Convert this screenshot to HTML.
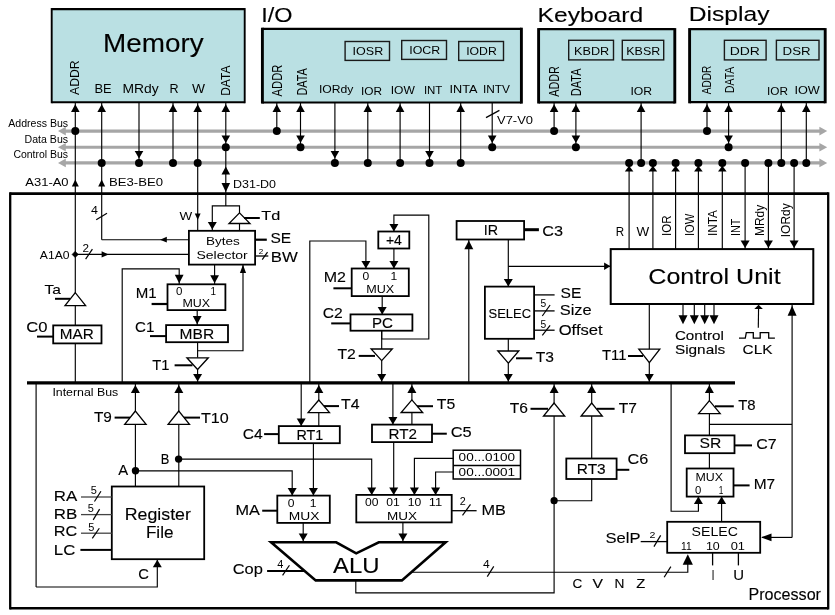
<!DOCTYPE html>
<html><head><meta charset="utf-8"><style>
html,body{margin:0;padding:0;background:#fff;width:835px;height:615px;overflow:hidden}
svg{display:block;will-change:transform}
text{font-family:"Liberation Sans",sans-serif}
.b{stroke:#000;stroke-width:0.12px}
</style></head><body>
<svg width="835" height="615" viewBox="0 0 835 615">
<rect x="51.7" y="9.1" width="193" height="93.1" fill="#bae0e3"/>
<line x1="51.7" y1="9.1" x2="244.7" y2="9.1" stroke="#000" stroke-width="2.1"/>
<line x1="51.7" y1="102.2" x2="244.7" y2="102.2" stroke="#000" stroke-width="2.1"/>
<line x1="51.7" y1="8.05" x2="51.7" y2="103.25" stroke="#000" stroke-width="1.9"/>
<line x1="244.7" y1="8.05" x2="244.7" y2="103.25" stroke="#000" stroke-width="1.9"/>
<rect x="262.4" y="28.8" width="259" height="73.7" fill="#bae0e3"/>
<line x1="262.4" y1="28.8" x2="521.4" y2="28.8" stroke="#000" stroke-width="2.2"/>
<line x1="262.4" y1="102.5" x2="521.4" y2="102.5" stroke="#000" stroke-width="2.2"/>
<line x1="262.4" y1="27.7" x2="262.4" y2="103.6" stroke="#000" stroke-width="2.9"/>
<line x1="521.4" y1="27.7" x2="521.4" y2="103.6" stroke="#000" stroke-width="2.9"/>
<rect x="538.6" y="29.2" width="136.2" height="73.2" fill="#bae0e3"/>
<line x1="538.6" y1="29.2" x2="674.8" y2="29.2" stroke="#000" stroke-width="2.2"/>
<line x1="538.6" y1="102.4" x2="674.8" y2="102.4" stroke="#000" stroke-width="2.2"/>
<line x1="538.6" y1="28.1" x2="538.6" y2="103.5" stroke="#000" stroke-width="2.9"/>
<line x1="674.8" y1="28.1" x2="674.8" y2="103.5" stroke="#000" stroke-width="2.9"/>
<rect x="689.6" y="29.2" width="135.6" height="73" fill="#bae0e3"/>
<line x1="689.6" y1="29.2" x2="825.2" y2="29.2" stroke="#000" stroke-width="2.2"/>
<line x1="689.6" y1="102.2" x2="825.2" y2="102.2" stroke="#000" stroke-width="2.2"/>
<line x1="689.6" y1="28.1" x2="689.6" y2="103.3" stroke="#000" stroke-width="2.9"/>
<line x1="825.2" y1="28.1" x2="825.2" y2="103.3" stroke="#000" stroke-width="2.9"/>
<rect x="345.1" y="41.5" width="44.4" height="18.9" fill="#bae0e3" stroke="#1a1a1a" stroke-width="1.4"/>
<text x="352.6" y="55" font-size="11" textLength="30.6" lengthAdjust="spacingAndGlyphs" fill="#000">IOSR</text>
<rect x="401.7" y="40.5" width="44.8" height="18.9" fill="#bae0e3" stroke="#1a1a1a" stroke-width="1.4"/>
<text x="409.2" y="53.9" font-size="11" textLength="31" lengthAdjust="spacingAndGlyphs" fill="#000">IOCR</text>
<rect x="458.7" y="41.5" width="44.8" height="18.9" fill="#bae0e3" stroke="#1a1a1a" stroke-width="1.4"/>
<text x="466.2" y="55" font-size="11" textLength="30.6" lengthAdjust="spacingAndGlyphs" fill="#000">IODR</text>
<rect x="568.7" y="40.3" width="44.8" height="19.6" fill="#bae0e3" stroke="#1a1a1a" stroke-width="1.4"/>
<text x="574" y="54.6" font-size="11" textLength="35.2" lengthAdjust="spacingAndGlyphs" fill="#000">KBDR</text>
<rect x="622.3" y="40.3" width="41.4" height="19.6" fill="#bae0e3" stroke="#1a1a1a" stroke-width="1.4"/>
<text x="626.3" y="54.6" font-size="11" textLength="33.9" lengthAdjust="spacingAndGlyphs" fill="#000">KBSR</text>
<rect x="724.4" y="40.3" width="41.7" height="19.6" fill="#bae0e3" stroke="#1a1a1a" stroke-width="1.4"/>
<text x="729.7" y="55.2" font-size="11" textLength="30.2" lengthAdjust="spacingAndGlyphs" fill="#000">DDR</text>
<rect x="776.4" y="40.3" width="42.6" height="19.6" fill="#bae0e3" stroke="#1a1a1a" stroke-width="1.4"/>
<text x="782.6" y="55.2" font-size="11" textLength="28" lengthAdjust="spacingAndGlyphs" fill="#000">DSR</text>
<text class="b" x="103" y="52" font-size="25.5" textLength="100.6" lengthAdjust="spacingAndGlyphs" fill="#000">Memory</text>
<text class="b" x="261.2" y="21.7" font-size="21" textLength="31.3" lengthAdjust="spacingAndGlyphs" fill="#000">I/O</text>
<text class="b" x="537.5" y="21.5" font-size="20.5" textLength="105.7" lengthAdjust="spacingAndGlyphs" fill="#000">Keyboard</text>
<text class="b" x="688.7" y="21.4" font-size="20.5" textLength="80.8" lengthAdjust="spacingAndGlyphs" fill="#000">Display</text>
<text transform="translate(78.6,94.9) scale(1.12,1) rotate(-90)" x="0" y="0" font-size="12.2" textLength="34.5" lengthAdjust="spacingAndGlyphs" fill="#000">ADDR</text>
<text x="94.5" y="93.2" font-size="12.7" textLength="17.2" lengthAdjust="spacingAndGlyphs" fill="#000">BE</text>
<text x="122.5" y="93.2" font-size="12.7" textLength="36.2" lengthAdjust="spacingAndGlyphs" fill="#000">MRdy</text>
<text x="169.5" y="93.2" font-size="12.7" textLength="9.1" lengthAdjust="spacingAndGlyphs" fill="#000">R</text>
<text x="191.9" y="93.2" font-size="12.7" textLength="13" lengthAdjust="spacingAndGlyphs" fill="#000">W</text>
<text transform="translate(230.1,95.8) scale(1.12,1) rotate(-90)" x="0" y="0" font-size="12" textLength="30.2" lengthAdjust="spacingAndGlyphs" fill="#000">DATA</text>
<line x1="64" y1="131.1" x2="820" y2="131.1" stroke="#a6a6a6" stroke-width="3.1"/>
<polygon points="58,131.1 65.8,126.8 65.8,135.4" fill="#a6a6a6"/>
<polygon points="827.2,131.1 819.4,126.8 819.4,135.4" fill="#a6a6a6"/>
<line x1="64" y1="147.3" x2="820" y2="147.3" stroke="#a6a6a6" stroke-width="3.1"/>
<polygon points="58,147.3 65.8,143 65.8,151.6" fill="#a6a6a6"/>
<polygon points="827.2,147.3 819.4,143 819.4,151.6" fill="#a6a6a6"/>
<line x1="64" y1="162.9" x2="820" y2="162.9" stroke="#a6a6a6" stroke-width="3.1"/>
<polygon points="58,162.9 65.8,158.6 65.8,167.2" fill="#a6a6a6"/>
<polygon points="827.2,162.9 819.4,158.6 819.4,167.2" fill="#a6a6a6"/>
<text x="8.3" y="126.6" font-size="10" textLength="59.8" lengthAdjust="spacingAndGlyphs" fill="#000">Address Bus</text>
<text x="24.6" y="142.7" font-size="10" textLength="43.5" lengthAdjust="spacingAndGlyphs" fill="#000">Data Bus</text>
<text x="13.4" y="158.3" font-size="10" textLength="54.7" lengthAdjust="spacingAndGlyphs" fill="#000">Control Bus</text>
<line x1="75.3" y1="102.5" x2="75.3" y2="383" stroke="#000" stroke-width="1.15"/>
<polygon points="75.3,104.2 71,111.9 79.6,111.9" fill="#000"/>
<circle cx="75.3" cy="131.1" r="4" fill="#000"/>
<polygon points="75.3,179.5 71.8,186.5 78.8,186.5" fill="#000"/>
<text x="25.3" y="186.4" font-size="10.5" textLength="43.3" lengthAdjust="spacingAndGlyphs" fill="#000">A31-A0</text>
<line x1="101.7" y1="102.5" x2="101.7" y2="239.8" stroke="#000" stroke-width="1.15"/>
<polygon points="101.7,104.2 97.4,111.9 106,111.9" fill="#000"/>
<circle cx="101.7" cy="162.9" r="4" fill="#000"/>
<polygon points="101.7,179.5 98.2,186.5 105.2,186.5" fill="#000"/>
<text x="109" y="186.4" font-size="10.5" textLength="54" lengthAdjust="spacingAndGlyphs" fill="#000">BE3-BE0</text>
<line x1="139" y1="102.5" x2="139" y2="162.9" stroke="#000" stroke-width="1.15"/>
<polygon points="139,158.6 134.7,151.1 143.3,151.1" fill="#000"/>
<circle cx="139" cy="162.9" r="4" fill="#000"/>
<line x1="173" y1="102.5" x2="173" y2="162.9" stroke="#000" stroke-width="1.15"/>
<polygon points="173,104.2 168.7,111.9 177.3,111.9" fill="#000"/>
<circle cx="173" cy="162.9" r="4" fill="#000"/>
<line x1="197.7" y1="102.5" x2="197.7" y2="230.5" stroke="#000" stroke-width="1.15"/>
<polygon points="197.7,104.2 193.4,111.9 202,111.9" fill="#000"/>
<circle cx="197.7" cy="162.9" r="4" fill="#000"/>
<line x1="225.8" y1="102.5" x2="225.8" y2="205.9" stroke="#000" stroke-width="1.15"/>
<polygon points="225.8,104.2 221.5,111.9 230.1,111.9" fill="#000"/>
<polygon points="225.8,143 221.5,135.5 230.1,135.5" fill="#000"/>
<circle cx="225.8" cy="147.3" r="4" fill="#000"/>
<polygon points="225.8,166.5 221.5,174.5 230.1,174.5" fill="#000"/>
<polygon points="225.8,192 221.5,183 230.1,183" fill="#000"/>
<text x="233" y="187.5" font-size="10.5" textLength="43" lengthAdjust="spacingAndGlyphs" fill="#000">D31-D0</text>
<line x1="276.8" y1="102.5" x2="276.8" y2="131.1" stroke="#000" stroke-width="1.15"/>
<polygon points="276.8,104.2 272.5,111.9 281.1,111.9" fill="#000"/>
<circle cx="276.8" cy="131.1" r="4" fill="#000"/>
<line x1="300.5" y1="102.5" x2="300.5" y2="147.3" stroke="#000" stroke-width="1.15"/>
<polygon points="300.5,104.2 296.2,111.9 304.8,111.9" fill="#000"/>
<polygon points="300.5,143 296.2,135.5 304.8,135.5" fill="#000"/>
<circle cx="300.5" cy="147.3" r="4" fill="#000"/>
<line x1="334.9" y1="102.5" x2="334.9" y2="162.9" stroke="#000" stroke-width="1.15"/>
<polygon points="334.9,158.6 330.6,151.1 339.2,151.1" fill="#000"/>
<circle cx="334.9" cy="162.9" r="4" fill="#000"/>
<line x1="367.8" y1="102.5" x2="367.8" y2="162.9" stroke="#000" stroke-width="1.15"/>
<polygon points="367.8,104.2 363.5,111.9 372.1,111.9" fill="#000"/>
<circle cx="367.8" cy="162.9" r="4" fill="#000"/>
<line x1="400.1" y1="102.5" x2="400.1" y2="162.9" stroke="#000" stroke-width="1.15"/>
<polygon points="400.1,104.2 395.8,111.9 404.4,111.9" fill="#000"/>
<circle cx="400.1" cy="162.9" r="4" fill="#000"/>
<line x1="429.5" y1="102.5" x2="429.5" y2="162.9" stroke="#000" stroke-width="1.15"/>
<polygon points="429.5,158.6 425.2,151.1 433.8,151.1" fill="#000"/>
<circle cx="429.5" cy="162.9" r="4" fill="#000"/>
<line x1="460.7" y1="102.5" x2="460.7" y2="162.9" stroke="#000" stroke-width="1.15"/>
<polygon points="460.7,104.2 456.4,111.9 465,111.9" fill="#000"/>
<circle cx="460.7" cy="162.9" r="4" fill="#000"/>
<line x1="492.2" y1="102.5" x2="492.2" y2="147.3" stroke="#000" stroke-width="1.15"/>
<polygon points="492.2,143 487.9,135.5 496.5,135.5" fill="#000"/>
<circle cx="492.2" cy="147.3" r="4" fill="#000"/>
<line x1="486" y1="117.6" x2="499.4" y2="110.4" stroke="#000" stroke-width="1.2"/>
<text x="497" y="123.5" font-size="10.5" textLength="36" lengthAdjust="spacingAndGlyphs" fill="#000">V7-V0</text>
<text transform="translate(281.6,96.4) scale(1.25,1) rotate(-90)" x="0" y="0" font-size="11.2" textLength="31.7" lengthAdjust="spacingAndGlyphs" fill="#000">ADDR</text>
<text transform="translate(306.8,95.5) scale(1.3,1) rotate(-90)" x="0" y="0" font-size="10.8" textLength="27.1" lengthAdjust="spacingAndGlyphs" fill="#000">DATA</text>
<text x="318.9" y="93.4" font-size="11.5" textLength="34.5" lengthAdjust="spacingAndGlyphs" fill="#000">IORdy</text>
<text x="360.9" y="95.3" font-size="11.5" textLength="21.1" lengthAdjust="spacingAndGlyphs" fill="#000">IOR</text>
<text x="390.7" y="93.8" font-size="11.5" textLength="24.1" lengthAdjust="spacingAndGlyphs" fill="#000">IOW</text>
<text x="423.9" y="93.8" font-size="11.5" textLength="18.5" lengthAdjust="spacingAndGlyphs" fill="#000">INT</text>
<text x="449.5" y="93" font-size="11.5" textLength="28" lengthAdjust="spacingAndGlyphs" fill="#000">INTA</text>
<text x="483" y="93" font-size="11.5" textLength="27" lengthAdjust="spacingAndGlyphs" fill="#000">INTV</text>
<line x1="554.1" y1="102.5" x2="554.1" y2="131.1" stroke="#000" stroke-width="1.15"/>
<polygon points="554.1,104.2 549.8,111.9 558.4,111.9" fill="#000"/>
<circle cx="554.1" cy="131.1" r="4" fill="#000"/>
<line x1="575.9" y1="102.5" x2="575.9" y2="147.3" stroke="#000" stroke-width="1.15"/>
<polygon points="575.9,104.2 571.6,111.9 580.2,111.9" fill="#000"/>
<polygon points="575.9,143 571.6,135.5 580.2,135.5" fill="#000"/>
<circle cx="575.9" cy="147.3" r="4" fill="#000"/>
<line x1="641.1" y1="102.5" x2="641.1" y2="162.9" stroke="#000" stroke-width="1.15"/>
<polygon points="641.1,104.2 636.8,111.9 645.4,111.9" fill="#000"/>
<circle cx="641.1" cy="162.9" r="4" fill="#000"/>
<text transform="translate(559.3,96.8) scale(1.3,1) rotate(-90)" x="0" y="0" font-size="10.9" textLength="30.7" lengthAdjust="spacingAndGlyphs" fill="#000">ADDR</text>
<text transform="translate(581,96.2) scale(1.3,1) rotate(-90)" x="0" y="0" font-size="11" textLength="27.8" lengthAdjust="spacingAndGlyphs" fill="#000">DATA</text>
<text x="630.4" y="94.9" font-size="11.5" textLength="21.7" lengthAdjust="spacingAndGlyphs" fill="#000">IOR</text>
<line x1="707" y1="102.5" x2="707" y2="131.1" stroke="#000" stroke-width="1.15"/>
<polygon points="707,104.2 702.7,111.9 711.3,111.9" fill="#000"/>
<circle cx="707" cy="131.1" r="4" fill="#000"/>
<line x1="728.6" y1="102.5" x2="728.6" y2="147.3" stroke="#000" stroke-width="1.15"/>
<polygon points="728.6,104.2 724.3,111.9 732.9,111.9" fill="#000"/>
<polygon points="728.6,143 724.3,135.5 732.9,135.5" fill="#000"/>
<circle cx="728.6" cy="147.3" r="4" fill="#000"/>
<line x1="781.3" y1="102.5" x2="781.3" y2="162.9" stroke="#000" stroke-width="1.15"/>
<polygon points="781.3,104.2 777,111.9 785.6,111.9" fill="#000"/>
<circle cx="781.3" cy="162.9" r="4" fill="#000"/>
<line x1="806.3" y1="102.5" x2="806.3" y2="162.9" stroke="#000" stroke-width="1.15"/>
<polygon points="806.3,104.2 802,111.9 810.6,111.9" fill="#000"/>
<circle cx="806.3" cy="162.9" r="4" fill="#000"/>
<text transform="translate(711.3,94.3) scale(1.3,1) rotate(-90)" x="0" y="0" font-size="10.2" textLength="28.6" lengthAdjust="spacingAndGlyphs" fill="#000">ADDR</text>
<text transform="translate(733.6,93) scale(1.3,1) rotate(-90)" x="0" y="0" font-size="10.5" textLength="26.2" lengthAdjust="spacingAndGlyphs" fill="#000">DATA</text>
<text x="767" y="94.6" font-size="11.5" textLength="21" lengthAdjust="spacingAndGlyphs" fill="#000">IOR</text>
<text x="794.4" y="93.8" font-size="11.5" textLength="25.4" lengthAdjust="spacingAndGlyphs" fill="#000">IOW</text>
<rect x="10.2" y="193.6" width="818" height="414.6" fill="none"/>
<line x1="10.2" y1="193.6" x2="828.2" y2="193.6" stroke="#000" stroke-width="2.6"/>
<line x1="10.2" y1="608.2" x2="828.2" y2="608.2" stroke="#000" stroke-width="2.6"/>
<line x1="10.2" y1="192.3" x2="10.2" y2="609.5" stroke="#000" stroke-width="2.3"/>
<line x1="828.2" y1="192.3" x2="828.2" y2="609.5" stroke="#000" stroke-width="2.3"/>
<line x1="629.1" y1="162.9" x2="629.1" y2="249.1" stroke="#000" stroke-width="1.15"/>
<circle cx="629.1" cy="162.9" r="4" fill="#000"/>
<polygon points="629.1,165.8 624.8,171.6 633.4,171.6" fill="#000"/>
<line x1="652.9" y1="162.9" x2="652.9" y2="249.1" stroke="#000" stroke-width="1.15"/>
<circle cx="652.9" cy="162.9" r="4" fill="#000"/>
<polygon points="652.9,165.8 648.6,171.6 657.2,171.6" fill="#000"/>
<line x1="675.6" y1="162.9" x2="675.6" y2="249.1" stroke="#000" stroke-width="1.15"/>
<circle cx="675.6" cy="162.9" r="4" fill="#000"/>
<polygon points="675.6,165.8 671.3,171.6 679.9,171.6" fill="#000"/>
<line x1="698.4" y1="162.9" x2="698.4" y2="249.1" stroke="#000" stroke-width="1.15"/>
<circle cx="698.4" cy="162.9" r="4" fill="#000"/>
<polygon points="698.4,165.8 694.1,171.6 702.7,171.6" fill="#000"/>
<line x1="722.3" y1="162.9" x2="722.3" y2="249.1" stroke="#000" stroke-width="1.15"/>
<circle cx="722.3" cy="162.9" r="4" fill="#000"/>
<polygon points="722.3,165.8 718,171.6 726.6,171.6" fill="#000"/>
<line x1="745.1" y1="162.9" x2="745.1" y2="249.1" stroke="#000" stroke-width="1.15"/>
<circle cx="745.1" cy="162.9" r="4" fill="#000"/>
<polygon points="745.1,248.1 740.6,240.6 749.6,240.6" fill="#000"/>
<line x1="768.4" y1="162.9" x2="768.4" y2="249.1" stroke="#000" stroke-width="1.15"/>
<circle cx="768.4" cy="162.9" r="4" fill="#000"/>
<polygon points="768.4,248.1 763.9,240.6 772.9,240.6" fill="#000"/>
<line x1="794.1" y1="162.9" x2="794.1" y2="249.1" stroke="#000" stroke-width="1.15"/>
<circle cx="794.1" cy="162.9" r="4" fill="#000"/>
<polygon points="794.1,248.1 789.6,240.6 798.6,240.6" fill="#000"/>
<text x="615.8" y="235.5" font-size="12" textLength="8.4" lengthAdjust="spacingAndGlyphs" fill="#000">R</text>
<text x="636.6" y="235.5" font-size="12" textLength="12.7" lengthAdjust="spacingAndGlyphs" fill="#000">W</text>
<text transform="translate(670.6,236) scale(1.15,1) rotate(-90)" x="0" y="0" font-size="11.5" textLength="20.5" lengthAdjust="spacingAndGlyphs" fill="#000">IOR</text>
<text transform="translate(693.9,236) scale(1.15,1) rotate(-90)" x="0" y="0" font-size="11.3" textLength="22.4" lengthAdjust="spacingAndGlyphs" fill="#000">IOW</text>
<text transform="translate(717.4,236) scale(1.15,1) rotate(-90)" x="0" y="0" font-size="11.7" textLength="26" lengthAdjust="spacingAndGlyphs" fill="#000">INTA</text>
<text transform="translate(740.1,236) scale(1.15,1) rotate(-90)" x="0" y="0" font-size="10.9" textLength="17.4" lengthAdjust="spacingAndGlyphs" fill="#000">INT</text>
<text transform="translate(764.1,236) scale(1.15,1) rotate(-90)" x="0" y="0" font-size="11.9" textLength="31.2" lengthAdjust="spacingAndGlyphs" fill="#000">MRdy</text>
<text transform="translate(790.4,237.2) scale(1.15,1) rotate(-90)" x="0" y="0" font-size="11.9" textLength="33.8" lengthAdjust="spacingAndGlyphs" fill="#000">IORdy</text>
<rect x="610.7" y="249.1" width="202.6" height="54.9" fill="#fff" stroke="#000" stroke-width="2"/>
<text class="b" x="648.3" y="283.7" font-size="22" textLength="132.3" lengthAdjust="spacingAndGlyphs" fill="#000">Control Unit</text>
<polygon points="197.7,219.9 194.8,213.4 200.6,213.4" fill="#000"/>
<text x="179.6" y="219.9" font-size="11.5" textLength="12.7" lengthAdjust="spacingAndGlyphs" fill="#000">W</text>
<polyline points="212.3,230.5 212.3,205.9 239.5,205.9 239.5,212.9" fill="none" stroke="#000" stroke-width="1.15" stroke-linejoin="miter"/>
<polygon points="212.3,229.5 207.8,222 216.8,222" fill="#000"/>
<polygon points="239.5,212.9 229,223.5 250,223.5" fill="#fff" stroke="#000" stroke-width="1.3" stroke-linejoin="miter"/>
<line x1="239.5" y1="223.5" x2="239.5" y2="230.5" stroke="#000" stroke-width="1.15"/>
<line x1="244" y1="218" x2="259.8" y2="218" stroke="#000" stroke-width="2"/>
<text class="b" x="261.3" y="219.8" font-size="13.5" textLength="19" lengthAdjust="spacingAndGlyphs" fill="#000">Td</text>
<rect x="188.9" y="230.8" width="66.2" height="33.8" fill="#fff" stroke="#000" stroke-width="1.8"/>
<text x="206" y="244.5" font-size="11.5" textLength="33.8" lengthAdjust="spacingAndGlyphs" fill="#000">Bytes</text>
<text x="196.4" y="258.5" font-size="11.5" textLength="51.4" lengthAdjust="spacingAndGlyphs" fill="#000">Selector</text>
<line x1="255.1" y1="239.7" x2="266.8" y2="239.7" stroke="#000" stroke-width="2.2"/>
<text class="b" x="270.5" y="242.8" font-size="14.4" textLength="20.7" lengthAdjust="spacingAndGlyphs" fill="#000">SE</text>
<line x1="255.1" y1="256" x2="268.3" y2="256" stroke="#000" stroke-width="1.3"/>
<line x1="262.25" y1="259.55" x2="267.55" y2="252.05" stroke="#000" stroke-width="1.2"/>
<text x="258.7" y="253.7" font-size="6.5" textLength="4.5" lengthAdjust="spacingAndGlyphs" fill="#000">2</text>
<text class="b" x="270.8" y="261.5" font-size="14.4" textLength="27" lengthAdjust="spacingAndGlyphs" fill="#000">BW</text>
<line x1="101.7" y1="239.7" x2="188.9" y2="239.7" stroke="#000" stroke-width="1.15"/>
<polygon points="160.1,239.7 166.8,236.8 166.8,242.6" fill="#000"/>
<line x1="96.2" y1="219.8" x2="107" y2="213.2" stroke="#000" stroke-width="1.2"/>
<text x="91.1" y="213.7" font-size="10" textLength="6.9" lengthAdjust="spacingAndGlyphs" fill="#000">4</text>
<line x1="75.3" y1="254.4" x2="188.9" y2="254.4" stroke="#000" stroke-width="1.15"/>
<polygon points="72,254.4 75.2,251.2 78.4,254.4 75.2,257.6" fill="#000" stroke="#000" stroke-width="0.5" stroke-linejoin="miter"/>
<polygon points="108.6,254.4 101.6,251.2 101.6,257.6" fill="#000"/>
<line x1="85.6" y1="259.2" x2="92.4" y2="249.2" stroke="#000" stroke-width="1.2"/>
<text x="82.5" y="251.6" font-size="10" textLength="6.5" lengthAdjust="spacingAndGlyphs" fill="#000">2</text>
<text x="39.8" y="258.5" font-size="10.5" textLength="29.7" lengthAdjust="spacingAndGlyphs" fill="#000">A1A0</text>
<polygon points="75.3,292.7 65,305.6 85.6,305.6" fill="#fff" stroke="#000" stroke-width="1.3" stroke-linejoin="miter"/>
<line x1="55" y1="298.8" x2="70" y2="298.8" stroke="#000" stroke-width="2"/>
<text class="b" x="44.6" y="293.9" font-size="13" textLength="16.4" lengthAdjust="spacingAndGlyphs" fill="#000">Ta</text>
<rect x="53.2" y="325.4" width="48.3" height="18" fill="#fff" stroke="#000" stroke-width="1.8"/>
<text class="b" x="59.7" y="339" font-size="15" textLength="34" lengthAdjust="spacingAndGlyphs" fill="#000">MAR</text>
<line x1="37" y1="336.6" x2="53.2" y2="336.6" stroke="#000" stroke-width="2"/>
<text class="b" x="26.3" y="331.7" font-size="14" textLength="21.3" lengthAdjust="spacingAndGlyphs" fill="#000">C0</text>
<polyline points="122.2,382.9 122.2,268.8 179.2,268.8 179.2,284" fill="none" stroke="#000" stroke-width="1.15" stroke-linejoin="miter"/>
<polygon points="179.2,283.3 174.8,274.7 183.6,274.7" fill="#000"/>
<line x1="214.6" y1="264.6" x2="214.6" y2="284.1" stroke="#000" stroke-width="1.15"/>
<polygon points="214.6,283.3 210.2,275.3 219,275.3" fill="#000"/>
<rect x="167.5" y="284.3" width="57.9" height="25.8" fill="#fff" stroke="#000" stroke-width="1.8"/>
<text x="176.1" y="294.8" font-size="10" textLength="6.4" lengthAdjust="spacingAndGlyphs" fill="#000">0</text>
<text x="210.6" y="294.8" font-size="10" textLength="5.5" lengthAdjust="spacingAndGlyphs" fill="#000">1</text>
<text x="182.5" y="306.8" font-size="10" textLength="27.6" lengthAdjust="spacingAndGlyphs" fill="#000">MUX</text>
<line x1="151.6" y1="304" x2="167.5" y2="304" stroke="#000" stroke-width="2.2"/>
<text class="b" x="135.8" y="297.6" font-size="14" textLength="20.9" lengthAdjust="spacingAndGlyphs" fill="#000">M1</text>
<line x1="197.2" y1="310.1" x2="197.2" y2="324.9" stroke="#000" stroke-width="1.15"/>
<polygon points="197.2,324.2 192.8,315.9 201.6,315.9" fill="#000"/>
<rect x="166.1" y="325.1" width="61.9" height="17.1" fill="#fff" stroke="#000" stroke-width="1.8"/>
<text class="b" x="179.6" y="338.8" font-size="14.9" textLength="34.5" lengthAdjust="spacingAndGlyphs" fill="#000">MBR</text>
<line x1="150" y1="336.1" x2="166.1" y2="336.1" stroke="#000" stroke-width="2"/>
<text class="b" x="135" y="331.5" font-size="14.3" textLength="19.4" lengthAdjust="spacingAndGlyphs" fill="#000">C1</text>
<line x1="197.6" y1="342.2" x2="197.6" y2="357.8" stroke="#000" stroke-width="1.15"/>
<polyline points="197.6,350.7 243,350.7 243,265" fill="none" stroke="#000" stroke-width="1.15" stroke-linejoin="miter"/>
<polygon points="243,264.8 239.9,273 246.1,273" fill="#000"/>
<polygon points="197.6,369.5 186.9,357.8 208.3,357.8" fill="#fff" stroke="#000" stroke-width="1.3" stroke-linejoin="miter"/>
<line x1="197.6" y1="369.5" x2="197.6" y2="382.9" stroke="#000" stroke-width="1.15"/>
<polygon points="197.6,381.4 193.1,373.9 202.1,373.9" fill="#000"/>
<line x1="174.6" y1="365.3" x2="192.5" y2="365.3" stroke="#000" stroke-width="2"/>
<text class="b" x="152.3" y="369.6" font-size="14.3" textLength="17.2" lengthAdjust="spacingAndGlyphs" fill="#000">T1</text>
<line x1="36.1" y1="382.9" x2="36.1" y2="587" stroke="#000" stroke-width="1.15"/>
<polyline points="36.1,587 157.3,587 157.3,560" fill="none" stroke="#000" stroke-width="1.15" stroke-linejoin="miter"/>
<polygon points="157.3,559.8 152.8,567.3 161.8,567.3" fill="#000"/>
<text class="b" x="138.3" y="579.4" font-size="14.5" textLength="10.7" lengthAdjust="spacingAndGlyphs" fill="#000">C</text>
<line x1="135.4" y1="382.9" x2="135.4" y2="486.5" stroke="#000" stroke-width="1.15"/>
<polygon points="135.4,384.9 130.9,392.9 139.9,392.9" fill="#000"/>
<polygon points="135.4,411 124.7,424.4 146.1,424.4" fill="#fff" stroke="#000" stroke-width="1.3" stroke-linejoin="miter"/>
<line x1="114.6" y1="417.6" x2="130" y2="417.6" stroke="#000" stroke-width="2"/>
<text class="b" x="94" y="421.9" font-size="14.3" textLength="17.9" lengthAdjust="spacingAndGlyphs" fill="#000">T9</text>
<line x1="178.8" y1="382.9" x2="178.8" y2="486.5" stroke="#000" stroke-width="1.15"/>
<polygon points="178.8,384.9 174.3,392.9 183.3,392.9" fill="#000"/>
<polygon points="178.8,411 168.1,424.4 189.5,424.4" fill="#fff" stroke="#000" stroke-width="1.3" stroke-linejoin="miter"/>
<line x1="184" y1="417.6" x2="200" y2="417.6" stroke="#000" stroke-width="2"/>
<text class="b" x="200.9" y="422.6" font-size="14.3" textLength="27.8" lengthAdjust="spacingAndGlyphs" fill="#000">T10</text>
<circle cx="135.5" cy="470.8" r="3.7" fill="#000"/>
<circle cx="178.6" cy="459.1" r="3.7" fill="#000"/>
<text class="b" x="118.2" y="474.9" font-size="14" textLength="9.9" lengthAdjust="spacingAndGlyphs" fill="#000">A</text>
<text class="b" x="160.8" y="463.6" font-size="14" textLength="8.6" lengthAdjust="spacingAndGlyphs" fill="#000">B</text>
<polyline points="135.4,470.8 292.2,470.8 292.2,495.6" fill="none" stroke="#000" stroke-width="1.15" stroke-linejoin="miter"/>
<polygon points="292.2,495.6 287.7,488.1 296.7,488.1" fill="#000"/>
<polyline points="178.8,459.1 371.7,459.1 371.7,494.9" fill="none" stroke="#000" stroke-width="1.15" stroke-linejoin="miter"/>
<polygon points="371.7,494.9 367.2,487.4 376.2,487.4" fill="#000"/>
<rect x="111.8" y="486.5" width="92.4" height="72.7" fill="#fff" stroke="#000" stroke-width="1.8"/>
<text class="b" x="124.7" y="519.9" font-size="15.8" textLength="66.2" lengthAdjust="spacingAndGlyphs" fill="#000">Register</text>
<text class="b" x="145.9" y="538.4" font-size="15.8" textLength="27.6" lengthAdjust="spacingAndGlyphs" fill="#000">File</text>
<line x1="81" y1="497" x2="111.8" y2="497" stroke="#444" stroke-width="1.3"/>
<line x1="94.45" y1="501.5" x2="100.95" y2="491.3" stroke="#000" stroke-width="1.2"/>
<text x="90.7" y="493.5" font-size="10" textLength="6.1" lengthAdjust="spacingAndGlyphs" fill="#000">5</text>
<text class="b" x="53.8" y="500.9" font-size="14.3" textLength="23.5" lengthAdjust="spacingAndGlyphs" fill="#000">RA</text>
<line x1="81" y1="514.6" x2="111.8" y2="514.6" stroke="#444" stroke-width="1.3"/>
<line x1="93.2" y1="519.85" x2="99.6" y2="509.15" stroke="#000" stroke-width="1.2"/>
<text x="87.7" y="511.5" font-size="10" textLength="6.1" lengthAdjust="spacingAndGlyphs" fill="#000">5</text>
<text class="b" x="53.8" y="518.5" font-size="14.3" textLength="23.5" lengthAdjust="spacingAndGlyphs" fill="#000">RB</text>
<line x1="81" y1="533.2" x2="111.8" y2="533.2" stroke="#444" stroke-width="1.3"/>
<line x1="92.3" y1="538.35" x2="99.3" y2="528.25" stroke="#000" stroke-width="1.2"/>
<text x="88.3" y="530.7" font-size="10" textLength="6.1" lengthAdjust="spacingAndGlyphs" fill="#000">5</text>
<text class="b" x="53.8" y="535.6" font-size="14.3" textLength="23.5" lengthAdjust="spacingAndGlyphs" fill="#000">RC</text>
<line x1="80.4" y1="549.9" x2="111.8" y2="549.9" stroke="#000" stroke-width="2"/>
<text class="b" x="53.8" y="554.5" font-size="14.3" textLength="21.5" lengthAdjust="spacingAndGlyphs" fill="#000">LC</text>
<line x1="301.2" y1="382.9" x2="301.2" y2="426.1" stroke="#000" stroke-width="1.15"/>
<polygon points="301.2,426.1 296.7,418.6 305.7,418.6" fill="#000"/>
<line x1="318.8" y1="426.1" x2="318.8" y2="382.9" stroke="#000" stroke-width="1.15"/>
<polygon points="318.8,384.9 314.3,392.9 323.3,392.9" fill="#000"/>
<polygon points="318.8,400 308.1,412.7 329.5,412.7" fill="#fff" stroke="#000" stroke-width="1.3" stroke-linejoin="miter"/>
<line x1="324" y1="406.1" x2="339" y2="406.1" stroke="#000" stroke-width="2"/>
<text class="b" x="341" y="409.2" font-size="14" textLength="18.5" lengthAdjust="spacingAndGlyphs" fill="#000">T4</text>
<rect x="278.8" y="426.1" width="61" height="17.1" fill="#fff" stroke="#000" stroke-width="1.8"/>
<text class="b" x="296.5" y="439.7" font-size="14.7" textLength="26.8" lengthAdjust="spacingAndGlyphs" fill="#000">RT1</text>
<line x1="264.1" y1="434.1" x2="278.8" y2="434.1" stroke="#000" stroke-width="2"/>
<text class="b" x="242.7" y="439" font-size="14" textLength="20" lengthAdjust="spacingAndGlyphs" fill="#000">C4</text>
<line x1="313.4" y1="443.2" x2="313.4" y2="495.6" stroke="#000" stroke-width="1.15"/>
<polygon points="313.4,495.6 308.9,488.1 317.9,488.1" fill="#000"/>
<rect x="277.3" y="495.6" width="52.5" height="27.3" fill="#fff" stroke="#000" stroke-width="1.8"/>
<text x="287.84" y="506.5" font-size="11" textLength="6.73" lengthAdjust="spacingAndGlyphs" fill="#000">0</text>
<text x="309.84" y="506.5" font-size="11" textLength="6.73" lengthAdjust="spacingAndGlyphs" fill="#000">1</text>
<text x="288.7" y="519.9" font-size="11.3" textLength="30.7" lengthAdjust="spacingAndGlyphs" fill="#000">MUX</text>
<line x1="262.2" y1="510.7" x2="277.3" y2="510.7" stroke="#000" stroke-width="2"/>
<text class="b" x="235.4" y="514.6" font-size="14" textLength="24.4" lengthAdjust="spacingAndGlyphs" fill="#000">MA</text>
<line x1="303.2" y1="522.9" x2="303.2" y2="541.5" stroke="#000" stroke-width="1.15"/>
<polygon points="303.2,541 298.7,533.5 307.7,533.5" fill="#000"/>
<line x1="392.9" y1="382.9" x2="392.9" y2="424.6" stroke="#000" stroke-width="1.15"/>
<polygon points="392.9,424.6 388.4,417.1 397.4,417.1" fill="#000"/>
<line x1="411.9" y1="424.6" x2="411.9" y2="382.9" stroke="#000" stroke-width="1.15"/>
<polygon points="411.9,384.9 407.4,392.9 416.4,392.9" fill="#000"/>
<polygon points="411.9,399.9 401.1,412.5 422.7,412.5" fill="#fff" stroke="#000" stroke-width="1.3" stroke-linejoin="miter"/>
<line x1="417" y1="406.2" x2="433" y2="406.2" stroke="#000" stroke-width="2"/>
<text class="b" x="436.8" y="409.2" font-size="14" textLength="18.4" lengthAdjust="spacingAndGlyphs" fill="#000">T5</text>
<rect x="372" y="424.6" width="60" height="17.5" fill="#fff" stroke="#000" stroke-width="1.8"/>
<text class="b" x="388.5" y="438.9" font-size="14.7" textLength="28.5" lengthAdjust="spacingAndGlyphs" fill="#000">RT2</text>
<line x1="432" y1="433.7" x2="446.8" y2="433.7" stroke="#000" stroke-width="2"/>
<text class="b" x="450.7" y="437.2" font-size="14.5" textLength="21" lengthAdjust="spacingAndGlyphs" fill="#000">C5</text>
<line x1="393.7" y1="442.1" x2="393.7" y2="494.9" stroke="#000" stroke-width="1.15"/>
<polygon points="393.7,494.9 389.2,487.4 398.2,487.4" fill="#000"/>
<rect x="453.2" y="450.2" width="67.3" height="28.8" fill="#fff" stroke="#000" stroke-width="1.5"/>
<line x1="453.2" y1="465.4" x2="520.5" y2="465.4" stroke="#000" stroke-width="1.5"/>
<text x="458.6" y="460.9" font-size="10.5" textLength="56.5" lengthAdjust="spacingAndGlyphs" fill="#000">00...0100</text>
<text x="458.6" y="475.8" font-size="10.5" textLength="56.5" lengthAdjust="spacingAndGlyphs" fill="#000">00...0001</text>
<polyline points="453.2,458.3 414.4,458.3 414.4,494.9" fill="none" stroke="#000" stroke-width="1.15" stroke-linejoin="miter"/>
<polygon points="414.4,494.9 409.9,487.4 418.9,487.4" fill="#000"/>
<polyline points="453.2,472 435.6,472 435.6,494.9" fill="none" stroke="#000" stroke-width="1.15" stroke-linejoin="miter"/>
<polygon points="435.6,494.9 431.1,487.4 440.1,487.4" fill="#000"/>
<rect x="356.3" y="494.9" width="95.4" height="27.5" fill="#fff" stroke="#000" stroke-width="1.8"/>
<text x="364.95" y="505.8" font-size="11" textLength="13.5" lengthAdjust="spacingAndGlyphs" fill="#000">00</text>
<text x="386.15" y="505.8" font-size="11" textLength="13.5" lengthAdjust="spacingAndGlyphs" fill="#000">01</text>
<text x="407.65" y="505.8" font-size="11" textLength="13.5" lengthAdjust="spacingAndGlyphs" fill="#000">10</text>
<text x="428.85" y="505.8" font-size="11" textLength="13.5" lengthAdjust="spacingAndGlyphs" fill="#000">11</text>
<text x="387" y="519.8" font-size="11" textLength="30" lengthAdjust="spacingAndGlyphs" fill="#000">MUX</text>
<line x1="451.7" y1="510.7" x2="476.6" y2="510.7" stroke="#000" stroke-width="1.3"/>
<line x1="462.5" y1="515.4" x2="470.5" y2="504.4" stroke="#000" stroke-width="1.2"/>
<text x="459.7" y="505.3" font-size="10.5" textLength="6" lengthAdjust="spacingAndGlyphs" fill="#000">2</text>
<text class="b" x="481.5" y="515" font-size="14" textLength="24.4" lengthAdjust="spacingAndGlyphs" fill="#000">MB</text>
<line x1="402.9" y1="522.4" x2="402.9" y2="541.5" stroke="#000" stroke-width="1.15"/>
<polygon points="402.9,541 398.4,533.5 407.4,533.5" fill="#000"/>
<polygon points="271.1,542.3 336.2,542.3 356.2,553.3 378.8,542.3 445.6,542.3 401.9,580.4 315.7,580.4" fill="#fff" stroke="#000" stroke-width="2.6" stroke-linejoin="miter"/>
<text class="b" x="333.1" y="572.8" font-size="21.5" textLength="46.4" lengthAdjust="spacingAndGlyphs" fill="#000">ALU</text>
<line x1="267.1" y1="571" x2="304" y2="571" stroke="#000" stroke-width="2"/>
<line x1="282.55" y1="575.35" x2="289.45" y2="565.25" stroke="#000" stroke-width="1.2"/>
<text x="277.2" y="567.7" font-size="10" textLength="6.1" lengthAdjust="spacingAndGlyphs" fill="#000">4</text>
<text class="b" x="232.7" y="574.4" font-size="14" textLength="30.2" lengthAdjust="spacingAndGlyphs" fill="#000">Cop</text>
<polyline points="355.8,580.5 355.8,592.8 554.1,592.8 554.1,382.9" fill="none" stroke="#000" stroke-width="1.15" stroke-linejoin="miter"/>
<polygon points="554.1,384.9 549.6,392.9 558.6,392.9" fill="#000"/>
<polygon points="554.1,403 543.5,416 564.7,416" fill="#fff" stroke="#000" stroke-width="1.3" stroke-linejoin="miter"/>
<line x1="530.5" y1="408.8" x2="548" y2="408.8" stroke="#000" stroke-width="2"/>
<text class="b" x="509.8" y="413.2" font-size="14" textLength="18.2" lengthAdjust="spacingAndGlyphs" fill="#000">T6</text>
<circle cx="554.1" cy="500.7" r="3.6" fill="#000"/>
<polyline points="411,572.2 687.8,572.2 687.8,560" fill="none" stroke="#000" stroke-width="1.15" stroke-linejoin="miter"/>
<polygon points="687.8,554.2 682.7,564.8 692.9,564.8" fill="#000"/>
<line x1="487.25" y1="576.65" x2="493.75" y2="566.35" stroke="#000" stroke-width="1.2"/>
<text x="483.1" y="567.7" font-size="10.6" textLength="6.7" lengthAdjust="spacingAndGlyphs" fill="#000">4</text>
<line x1="664.15" y1="577.2" x2="670.85" y2="566.6" stroke="#000" stroke-width="1.2"/>
<text class="b" x="572.5" y="588.4" font-size="13.5" textLength="9.8" lengthAdjust="spacingAndGlyphs" fill="#000">C</text>
<text class="b" x="592.5" y="588.4" font-size="13.5" textLength="10.5" lengthAdjust="spacingAndGlyphs" fill="#000">V</text>
<text class="b" x="614.5" y="588.4" font-size="13.5" textLength="9.9" lengthAdjust="spacingAndGlyphs" fill="#000">N</text>
<text class="b" x="636.3" y="588.4" font-size="13.5" textLength="9" lengthAdjust="spacingAndGlyphs" fill="#000">Z</text>
<polyline points="591.7,479 591.7,500.7 554.1,500.7" fill="none" stroke="#000" stroke-width="1.15" stroke-linejoin="miter"/>
<line x1="591.7" y1="458.5" x2="591.7" y2="382.9" stroke="#000" stroke-width="1.15"/>
<polygon points="591.7,384.9 587.2,392.9 596.2,392.9" fill="#000"/>
<polygon points="591.7,403 581.1,416 602.3,416" fill="#fff" stroke="#000" stroke-width="1.3" stroke-linejoin="miter"/>
<line x1="597" y1="408.8" x2="614.6" y2="408.8" stroke="#000" stroke-width="2"/>
<text class="b" x="618.8" y="413.2" font-size="14" textLength="18.2" lengthAdjust="spacingAndGlyphs" fill="#000">T7</text>
<rect x="566.3" y="458.5" width="50.3" height="20.5" fill="#fff" stroke="#000" stroke-width="1.8"/>
<text class="b" x="576.8" y="474.3" font-size="14.7" textLength="28.9" lengthAdjust="spacingAndGlyphs" fill="#000">RT3</text>
<line x1="616.6" y1="469.8" x2="629.3" y2="469.8" stroke="#000" stroke-width="2"/>
<text class="b" x="627.6" y="464.3" font-size="14.5" textLength="20.8" lengthAdjust="spacingAndGlyphs" fill="#000">C6</text>
<polyline points="309.8,382.9 309.8,241 365.9,241 365.9,268.5" fill="none" stroke="#000" stroke-width="1.15" stroke-linejoin="miter"/>
<polygon points="365.9,268.5 361.4,261 370.4,261" fill="#000"/>
<polyline points="381.7,330.7 381.7,339 428.8,339 428.8,215.1 393.9,215.1 393.9,231.5" fill="none" stroke="#000" stroke-width="1.15" stroke-linejoin="miter"/>
<polygon points="393.9,231.5 389.4,224 398.4,224" fill="#000"/>
<rect x="378.3" y="231.5" width="31" height="17" fill="#fff" stroke="#000" stroke-width="1.8"/>
<text class="b" x="385.9" y="244.8" font-size="15.2" textLength="16" lengthAdjust="spacingAndGlyphs" fill="#000">+4</text>
<line x1="393.9" y1="248.5" x2="393.9" y2="268.5" stroke="#000" stroke-width="1.15"/>
<polygon points="393.9,268.5 389.4,261 398.4,261" fill="#000"/>
<rect x="351.7" y="268.5" width="57.1" height="27.6" fill="#fff" stroke="#000" stroke-width="1.8"/>
<text x="362.54" y="280" font-size="11" textLength="6.73" lengthAdjust="spacingAndGlyphs" fill="#000">0</text>
<text x="390.54" y="280" font-size="11" textLength="6.73" lengthAdjust="spacingAndGlyphs" fill="#000">1</text>
<text x="366.2" y="292.5" font-size="11" textLength="28" lengthAdjust="spacingAndGlyphs" fill="#000">MUX</text>
<line x1="333.4" y1="288.3" x2="351.7" y2="288.3" stroke="#000" stroke-width="2"/>
<text class="b" x="323.7" y="281.5" font-size="14" textLength="22.2" lengthAdjust="spacingAndGlyphs" fill="#000">M2</text>
<line x1="382.2" y1="296.1" x2="382.2" y2="314.4" stroke="#000" stroke-width="1.15"/>
<polygon points="382.2,314.4 377.7,306.9 386.7,306.9" fill="#000"/>
<rect x="350.5" y="314.4" width="61.9" height="16.3" fill="#fff" stroke="#000" stroke-width="1.8"/>
<text class="b" x="371.9" y="327.6" font-size="14.9" textLength="21" lengthAdjust="spacingAndGlyphs" fill="#000">PC</text>
<line x1="331.2" y1="323.4" x2="350.5" y2="323.4" stroke="#000" stroke-width="2"/>
<text class="b" x="322.7" y="318" font-size="14" textLength="20" lengthAdjust="spacingAndGlyphs" fill="#000">C2</text>
<line x1="381.7" y1="330.7" x2="381.7" y2="349" stroke="#000" stroke-width="1.15"/>
<polygon points="381.7,360.6 371.1,349 392.3,349" fill="#fff" stroke="#000" stroke-width="1.3" stroke-linejoin="miter"/>
<line x1="381.7" y1="360.6" x2="381.7" y2="382.9" stroke="#000" stroke-width="1.15"/>
<polygon points="381.7,381.4 377.2,373.9 386.2,373.9" fill="#000"/>
<line x1="358.7" y1="355.9" x2="375" y2="355.9" stroke="#000" stroke-width="2"/>
<text class="b" x="337.4" y="359.2" font-size="14.5" textLength="18.4" lengthAdjust="spacingAndGlyphs" fill="#000">T2</text>
<line x1="468.8" y1="382.9" x2="468.8" y2="239.5" stroke="#000" stroke-width="1.15"/>
<polygon points="468.8,240.5 464.3,249.3 473.3,249.3" fill="#000"/>
<rect x="456.6" y="221" width="67.5" height="18.5" fill="#fff" stroke="#000" stroke-width="1.8"/>
<text class="b" x="483.8" y="234.7" font-size="14.5" textLength="14.3" lengthAdjust="spacingAndGlyphs" fill="#000">IR</text>
<line x1="524.1" y1="229.7" x2="538.9" y2="229.7" stroke="#000" stroke-width="3"/>
<text class="b" x="542.3" y="235.5" font-size="14.5" textLength="20.8" lengthAdjust="spacingAndGlyphs" fill="#000">C3</text>
<line x1="508.3" y1="239.5" x2="508.3" y2="286.6" stroke="#000" stroke-width="1.15"/>
<polygon points="508.3,286.6 503.8,279.1 512.8,279.1" fill="#000"/>
<line x1="508.3" y1="266.3" x2="610.7" y2="266.3" stroke="#000" stroke-width="1.15"/>
<polygon points="610.4,266.3 604.1,262.6 604.1,270" fill="#000"/>
<rect x="484.9" y="286.6" width="49.2" height="52.2" fill="#fff" stroke="#000" stroke-width="1.8"/>
<text class="b" x="488.5" y="317.9" font-size="13.3" textLength="42.6" lengthAdjust="spacingAndGlyphs" fill="#000">SELEC</text>
<line x1="534.1" y1="294.9" x2="554.6" y2="294.9" stroke="#000" stroke-width="1.3"/>
<text class="b" x="560.5" y="297.6" font-size="14.5" textLength="20.8" lengthAdjust="spacingAndGlyphs" fill="#000">SE</text>
<line x1="534.1" y1="310.9" x2="554.6" y2="310.9" stroke="#000" stroke-width="1.3"/>
<line x1="542.3" y1="316" x2="550.1" y2="305" stroke="#000" stroke-width="1.2"/>
<text x="540.5" y="307.3" font-size="10.5" textLength="5.7" lengthAdjust="spacingAndGlyphs" fill="#000">5</text>
<text class="b" x="559.7" y="314.5" font-size="14.5" textLength="32" lengthAdjust="spacingAndGlyphs" fill="#000">Size</text>
<line x1="534.1" y1="330.2" x2="554.6" y2="330.2" stroke="#000" stroke-width="1.3"/>
<line x1="542.3" y1="335.3" x2="550.1" y2="325.3" stroke="#000" stroke-width="1.2"/>
<text x="540.5" y="327.5" font-size="10.5" textLength="5.7" lengthAdjust="spacingAndGlyphs" fill="#000">5</text>
<text class="b" x="558.7" y="334.8" font-size="14.5" textLength="44" lengthAdjust="spacingAndGlyphs" fill="#000">Offset</text>
<line x1="508.3" y1="338.8" x2="508.3" y2="351" stroke="#000" stroke-width="1.15"/>
<polygon points="508.3,363.2 497.8,351 518.8,351" fill="#fff" stroke="#000" stroke-width="1.3" stroke-linejoin="miter"/>
<line x1="508.3" y1="363.2" x2="508.3" y2="382.9" stroke="#000" stroke-width="1.15"/>
<polygon points="508.3,381.4 503.8,373.9 512.8,373.9" fill="#000"/>
<line x1="516" y1="358.3" x2="532.2" y2="358.3" stroke="#000" stroke-width="2"/>
<text class="b" x="535.8" y="361.5" font-size="14.5" textLength="18.2" lengthAdjust="spacingAndGlyphs" fill="#000">T3</text>
<line x1="649.3" y1="304" x2="649.3" y2="349.1" stroke="#000" stroke-width="1.15"/>
<polygon points="649.3,362.6 638.8,349.1 659.8,349.1" fill="#fff" stroke="#000" stroke-width="1.3" stroke-linejoin="miter"/>
<line x1="649.3" y1="362.6" x2="649.3" y2="382.9" stroke="#000" stroke-width="1.15"/>
<polygon points="649.3,381.4 644.8,373.9 653.8,373.9" fill="#000"/>
<line x1="628" y1="356" x2="643" y2="356" stroke="#000" stroke-width="2"/>
<text class="b" x="602" y="360.3" font-size="14.3" textLength="24.5" lengthAdjust="spacingAndGlyphs" fill="#000">T11</text>
<line x1="683" y1="304" x2="683" y2="322" stroke="#000" stroke-width="1.15"/>
<polygon points="683,324.3 678.5,315.3 687.5,315.3" fill="#000"/>
<line x1="694.3" y1="304" x2="694.3" y2="322" stroke="#000" stroke-width="1.15"/>
<polygon points="694.3,324.3 689.8,315.3 698.8,315.3" fill="#000"/>
<line x1="704.7" y1="304" x2="704.7" y2="322" stroke="#000" stroke-width="1.15"/>
<polygon points="704.7,324.3 700.2,315.3 709.2,315.3" fill="#000"/>
<line x1="714" y1="304" x2="714" y2="322" stroke="#000" stroke-width="1.15"/>
<polygon points="714,324.3 709.5,315.3 718.5,315.3" fill="#000"/>
<text class="b" x="674.9" y="340.2" font-size="13.5" textLength="49" lengthAdjust="spacingAndGlyphs" fill="#000">Control</text>
<text class="b" x="674.9" y="353.7" font-size="13.5" textLength="50.4" lengthAdjust="spacingAndGlyphs" fill="#000">Signals</text>
<line x1="758.3" y1="327.7" x2="758.6" y2="306" stroke="#000" stroke-width="1.15"/>
<polygon points="758.6,304.8 754.3,309 762.9,309" fill="#000"/>
<polyline points="739,338.2 745.3,338.2 746.3,332.7 753.3,332.7 753.3,338.2 760.2,338.2 760.2,332.7 768.7,332.7 768.7,338.2 774.9,338.2" fill="none" stroke="#000" stroke-width="1.3" stroke-linejoin="miter"/>
<text class="b" x="742.6" y="354.2" font-size="13.5" textLength="29.9" lengthAdjust="spacingAndGlyphs" fill="#000">CLK</text>
<line x1="709.4" y1="435.4" x2="709.4" y2="382.9" stroke="#000" stroke-width="1.15"/>
<polygon points="709.4,384.9 704.9,392.9 713.9,392.9" fill="#000"/>
<polygon points="709.4,400.7 698.6,413.7 720.2,413.7" fill="#fff" stroke="#000" stroke-width="1.3" stroke-linejoin="miter"/>
<line x1="715" y1="406.3" x2="733.8" y2="406.3" stroke="#000" stroke-width="2"/>
<text class="b" x="738.2" y="409.5" font-size="14.3" textLength="17.4" lengthAdjust="spacingAndGlyphs" fill="#000">T8</text>
<polyline points="709.4,424.4 792,424.4" fill="none" stroke="#000" stroke-width="1.15" stroke-linejoin="miter"/>
<line x1="792.1" y1="304" x2="792.1" y2="537.4" stroke="#000" stroke-width="1.15"/>
<polygon points="792.1,305.8 787.6,315.7 796.6,315.7" fill="#000"/>
<polyline points="792.1,537.4 762,537.4" fill="none" stroke="#000" stroke-width="1.15" stroke-linejoin="miter"/>
<polygon points="761.1,537.4 771.5,533.5 771.5,541.3" fill="#000"/>
<rect x="685" y="435.4" width="49.5" height="17.8" fill="#fff" stroke="#000" stroke-width="1.8"/>
<text class="b" x="699.5" y="448.3" font-size="14.8" textLength="21.8" lengthAdjust="spacingAndGlyphs" fill="#000">SR</text>
<line x1="734.5" y1="445.4" x2="752" y2="445.4" stroke="#000" stroke-width="2"/>
<text class="b" x="756.2" y="448.8" font-size="14.5" textLength="20.5" lengthAdjust="spacingAndGlyphs" fill="#000">C7</text>
<line x1="709.4" y1="453.2" x2="709.4" y2="468.5" stroke="#000" stroke-width="1.15"/>
<rect x="686.7" y="468.5" width="46.8" height="28.1" fill="#fff" stroke="#000" stroke-width="1.8"/>
<text x="695.5" y="480.9" font-size="11" textLength="27.5" lengthAdjust="spacingAndGlyphs" fill="#000">MUX</text>
<text x="694.9" y="493.6" font-size="11" textLength="6.3" lengthAdjust="spacingAndGlyphs" fill="#000">0</text>
<text x="718.8" y="493.6" font-size="11" textLength="4.6" lengthAdjust="spacingAndGlyphs" fill="#000">1</text>
<line x1="733.5" y1="485.4" x2="749.6" y2="485.4" stroke="#000" stroke-width="2"/>
<text class="b" x="753.7" y="489.4" font-size="14.5" textLength="21.5" lengthAdjust="spacingAndGlyphs" fill="#000">M7</text>
<polyline points="671.1,382.9 671.1,511.2 698.4,511.2 698.4,497" fill="none" stroke="#000" stroke-width="1.15" stroke-linejoin="miter"/>
<polygon points="698.4,496.6 693.9,504.1 702.9,504.1" fill="#000"/>
<line x1="721.6" y1="521.6" x2="721.6" y2="497" stroke="#000" stroke-width="1.15"/>
<polygon points="721.6,496.6 717.1,504.1 726.1,504.1" fill="#000"/>
<rect x="667.2" y="521.8" width="93" height="31" fill="#fff" stroke="#000" stroke-width="1.8"/>
<text x="691.6" y="536" font-size="12.3" textLength="46.4" lengthAdjust="spacingAndGlyphs" fill="#000">SELEC</text>
<text x="681" y="549.7" font-size="11.5" textLength="10.6" lengthAdjust="spacingAndGlyphs" fill="#000">11</text>
<text x="705.9" y="549.7" font-size="11.5" textLength="13.8" lengthAdjust="spacingAndGlyphs" fill="#000">10</text>
<text x="730.7" y="549.7" font-size="11.5" textLength="14.3" lengthAdjust="spacingAndGlyphs" fill="#000">01</text>
<line x1="640.7" y1="541.6" x2="667.2" y2="541.6" stroke="#000" stroke-width="1.3"/>
<line x1="653.95" y1="546.6" x2="660.65" y2="535.4" stroke="#000" stroke-width="1.2"/>
<text x="649.5" y="537.5" font-size="8.5" textLength="5.9" lengthAdjust="spacingAndGlyphs" fill="#000">2</text>
<text class="b" x="605.5" y="542.7" font-size="14" textLength="35" lengthAdjust="spacingAndGlyphs" fill="#000">SelP</text>
<line x1="712.6" y1="552.8" x2="712.6" y2="565.4" stroke="#000" stroke-width="1.3"/>
<line x1="738.4" y1="552.8" x2="738.4" y2="565.4" stroke="#000" stroke-width="1.3"/>
<text class="b" x="711.8" y="580.2" font-size="14" textLength="2.6" lengthAdjust="spacingAndGlyphs" fill="#000">I</text>
<text class="b" x="733.3" y="580.2" font-size="14" textLength="10.8" lengthAdjust="spacingAndGlyphs" fill="#000">U</text>
<text class="b" x="748.4" y="599.7" font-size="16.2" textLength="72.6" lengthAdjust="spacingAndGlyphs" fill="#000">Processor</text>
<line x1="27" y1="382.9" x2="735" y2="382.9" stroke="#000" stroke-width="3.2"/>
<text x="52.4" y="395.6" font-size="11" textLength="65.9" lengthAdjust="spacingAndGlyphs" fill="#000">Internal Bus</text>
</svg></body></html>
